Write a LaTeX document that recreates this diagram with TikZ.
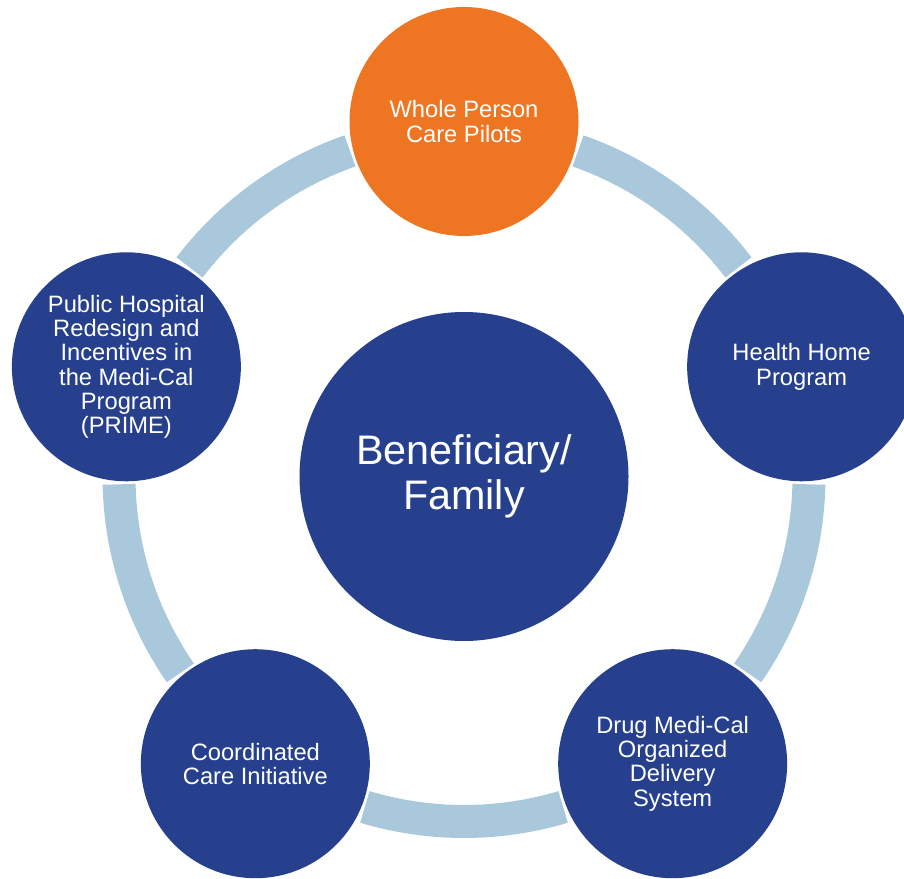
\documentclass[tikz,border=0pt]{standalone}
\usepackage{fontspec}
\setmainfont{Liberation Sans}
\definecolor{navyblue}{RGB}{38,64,142}
\definecolor{pilotorange}{RGB}{238,118,35}
\definecolor{ringblue}{RGB}{169,200,220}
\begin{document}
\begin{tikzpicture}[x=1pt,y=1pt,
  hub/.style={circle, fill=navyblue, text=white, minimum size=329pt, inner sep=0pt,
    align=center, font=\fontsize{41.3}{45}\selectfont},
  sat/.style={circle, fill=navyblue, text=white, minimum size=229pt, inner sep=0pt,
    align=center, font=\fontsize{23.7}{24.3}\selectfont},
  ringarc/.style={draw=ringblue, line width=33pt, line cap=butt}]
\useasboundingbox (0,0) rectangle (904,878);
\clip (0,0) rectangle (904,878);
\begin{scope}[shift={(464,401.5)}]
  \foreach \a in {18,90,162,234,306}
    \draw[ringarc] ({\a+19.3}:345) arc[start angle={\a+19.3}, end angle={\a+52.7}, radius=345];
  \node[hub] (hub) at (0,0) {Beneficiary/\\Family};
  \node[sat, fill=pilotorange] (wpc) at (90:355) {Whole Person\\Care Pilots};
  \node[sat] (hhp) at (18:355) {Health Home\\Program};
  \node[sat] (dmc) at (-54:355) {Drug Medi-Cal\\Organized\\Delivery\\System};
  \node[sat] (cci) at (-126:355) {Coordinated\\Care Initiative};
  \node[sat] (prime) at (162:355) {Public Hospital\\Redesign and\\Incentives in\\the Medi-Cal\\Program\\(PRIME)};
\end{scope}
\end{tikzpicture}
\end{document}
